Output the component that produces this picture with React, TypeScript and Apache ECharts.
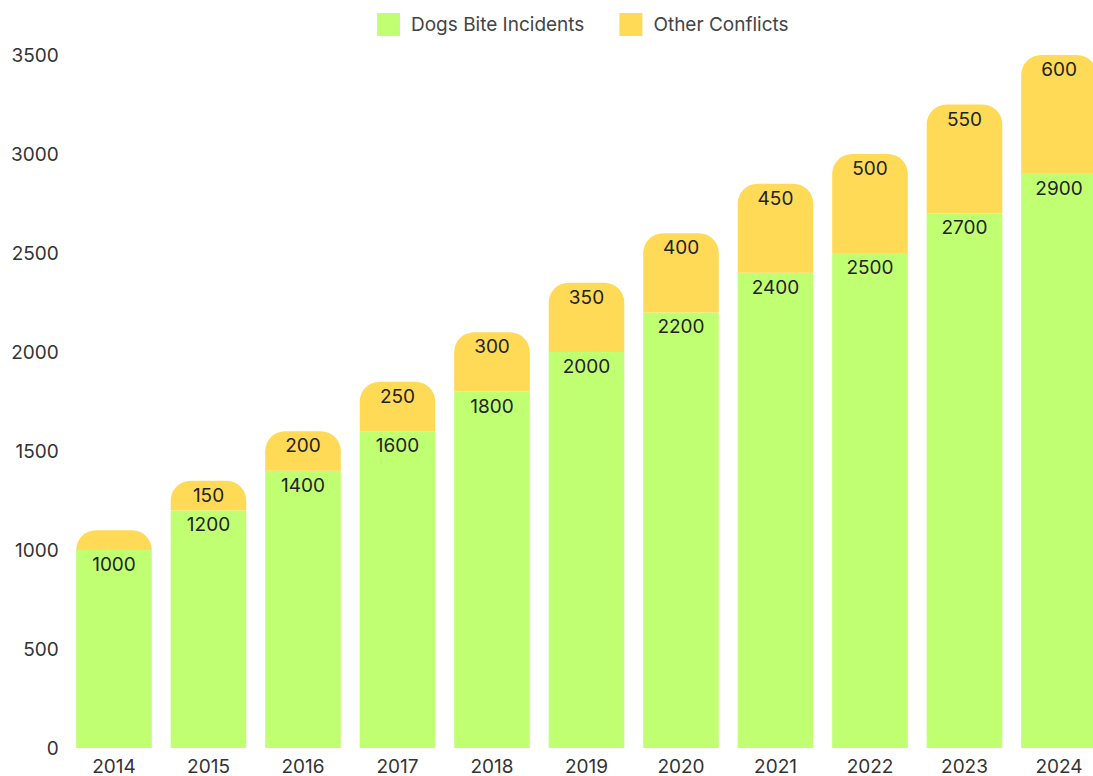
import React, { useEffect, useRef } from "react";
import * as echarts from "echarts";

const years = ["2014", "2015", "2016", "2017", "2018", "2019", "2020", "2021", "2022", "2023", "2024"];
const dogBites = [1000, 1200, 1400, 1600, 1800, 2000, 2200, 2400, 2500, 2700, 2900];
const otherConflicts = [100, 150, 200, 250, 300, 350, 400, 450, 500, 550, 600];
const hiddenOtherLabels = ["2014"];

const FONT = "Inter, 'Noto Sans', sans-serif";

export default function App() {
  const ref = useRef<HTMLDivElement>(null);
  useEffect(() => {
    if (!ref.current) return;
    const chart = echarts.init(ref.current, null, { renderer: "svg" });
    chart.setOption({
      animation: false,
      textStyle: { fontFamily: FONT },
      legend: {
        top: 8,
        left: 372,
        itemWidth: 23,
        itemHeight: 23,
        itemGap: 35,
        icon: "rect",
        textStyle: {
          fontSize: 19,
          color: "#444",
          fontFamily: FONT,
          lineHeight: 23,
          padding: [0, 0, 0, 6],
        },
        data: ["Dogs Bite Incidents", "Other Conflicts"],
      },
      grid: { left: 66.75, right: 13.75, top: 55, bottom: 20, containLabel: false },
      xAxis: {
        type: "category",
        data: years,
        axisLine: { show: false },
        axisTick: { show: false },
        axisLabel: { fontSize: 19, color: "#333", margin: 9, fontFamily: FONT },
      },
      yAxis: {
        type: "value",
        min: 0,
        max: 3500,
        interval: 500,
        splitLine: { show: false },
        axisLine: { show: false },
        axisTick: { show: false },
        axisLabel: {
          fontSize: 19,
          color: "#333",
          margin: 8,
          fontFamily: FONT,
          formatter: (v: number) => String(v),
        },
      },
      series: [
        {
          name: "Dogs Bite Incidents",
          type: "bar",
          stack: "total",
          barCategoryGap: "20%",
          data: dogBites,
          itemStyle: { color: "#C1FF72" },
          label: {
            show: true,
            position: "insideTop",
            distance: 5,
            fontSize: 19,
            color: "#222",
            fontFamily: FONT,
          },
        },
        {
          name: "Other Conflicts",
          type: "bar",
          stack: "total",
          data: otherConflicts.map((v, i) =>
            hiddenOtherLabels.includes(years[i]) ? { value: v, label: { show: false } } : v
          ),
          itemStyle: { color: "#FFDA57", borderRadius: [20, 20, 0, 0] },
          label: {
            show: true,
            position: "insideTop",
            distance: 5,
            fontSize: 19,
            color: "#222",
            fontFamily: FONT,
          },
        },
      ],
    });
    return () => chart.dispose();
  }, []);
  return (
    <div style={{ position: "fixed", left: 0, top: 0, width: 1093, height: 776, overflow: "hidden", background: "#fff" }}>
      <div ref={ref} style={{ width: 1120, height: 776 }} />
    </div>
  );
}
